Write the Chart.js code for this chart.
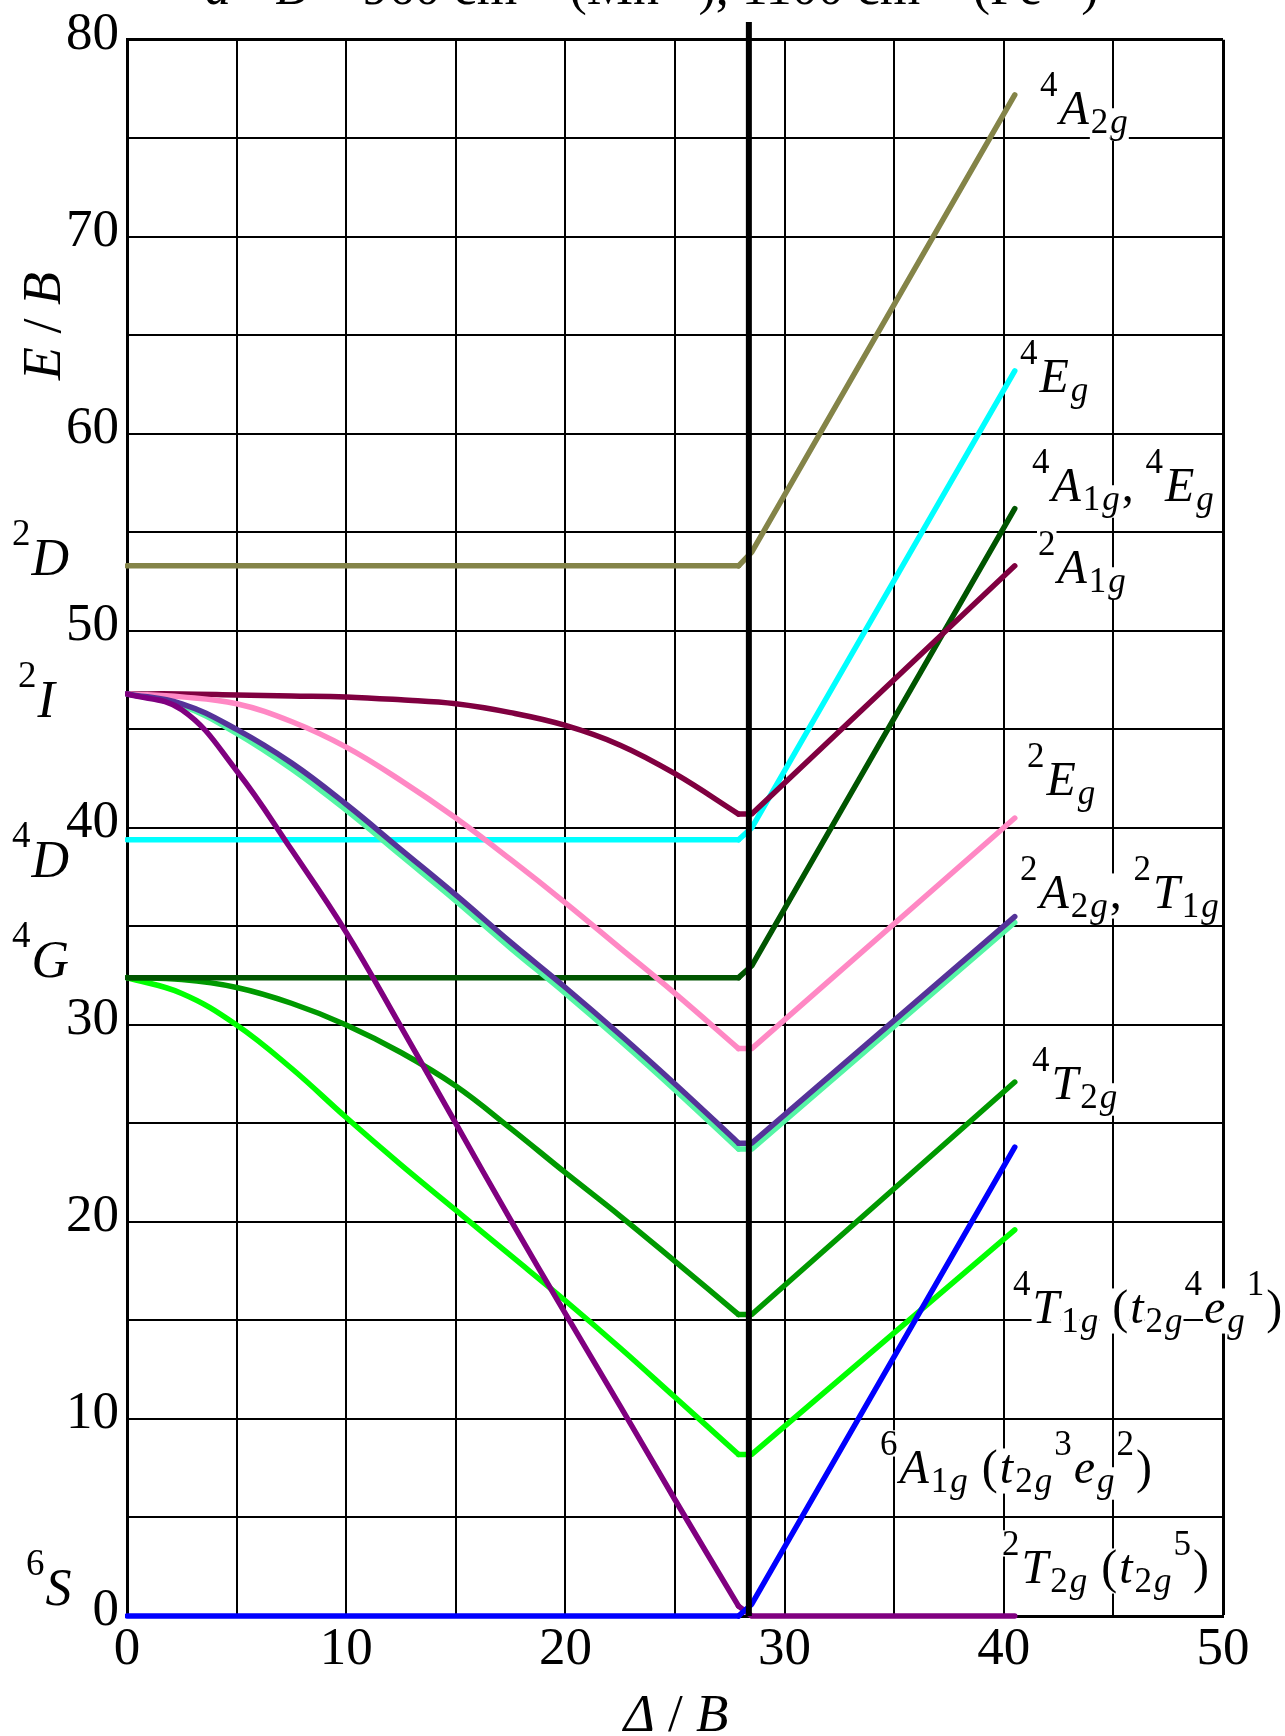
<!DOCTYPE html>
<html>
<head>
<meta charset="utf-8">
<script src="https://cdn.jsdelivr.net/npm/chart.js@4.4.0/dist/chart.umd.min.js"></script>
<style>
  html, body { margin: 0; padding: 0; background: #fff; }
  #chart { display: block; }
</style>
</head>
<body>
<canvas id="chart" width="1285" height="1736"></canvas>
<script>
// Tanabe-Sugano diagram, d5 — energies
const deltaLeft = [0, 2.5, 5, 7.5, 10, 12.5, 15, 17.5, 20, 22.5, 25, 27.9];
const deltaRight = [27.9, 28.5, 40.5];
const crossover = 28.37;
const crossoverTop = 80.9;

const xTicks = [0, 10, 20, 30, 40, 50];
const yTicks = [0, 10, 20, 30, 40, 50, 60, 70, 80];

// left part (high spin ground state), right part (low spin ground state)
const a6A1gLeft = [0, 0, 0, 0, 0, 0, 0, 0, 0, 0, 0, 0];
const a6A1gRight = [0, 0.6, 23.8];
const t2T2gLeft = [46.8, 46.0, 42.9, 38.9, 34.7, 29.9, 25.0, 20.1, 15.35, 10.65, 5.9, 0.5];
const t2T2gRight = [0.5, 0, 0];
const t4T1gLeft = [32.4, 31.6, 30.0, 27.8, 25.3, 22.9, 20.6, 18.3, 16.0, 13.6, 11.1, 8.2];
const t4T1gRight = [8.2, 8.2, 19.6];
const t4T2gLeft = [32.4, 32.3, 31.9, 31.1, 30.0, 28.6, 26.9, 24.75, 22.5, 20.3, 18.0, 15.3];
const t4T2gRight = [15.3, 15.3, 27.1];
const a4A1gLeft = [32.4, 32.4, 32.4, 32.4, 32.4, 32.4, 32.4, 32.4, 32.4, 32.4, 32.4, 32.4];
const a4A1gRight = [32.4, 33.0, 56.2];
const e4EgLeft = [39.4, 39.4, 39.4, 39.4, 39.4, 39.4, 39.4, 39.4, 39.4, 39.4, 39.4, 39.4];
const e4EgRight = [39.4, 40.0, 63.2];
const a4A2gLeft = [53.3, 53.3, 53.3, 53.3, 53.3, 53.3, 53.3, 53.3, 53.3, 53.3, 53.3, 53.3];
const a4A2gRight = [53.3, 54.0, 77.2];
const a2A1gLeft = [46.8, 46.8, 46.75, 46.7, 46.65, 46.5, 46.3, 45.85, 45.2, 44.2, 42.75, 40.7];
const a2A1gRight = [40.7, 40.7, 53.3];
const e2EgLeft = [46.8, 46.65, 46.3, 45.4, 44.1, 42.4, 40.5, 38.4, 36.2, 33.9, 31.6, 28.8];
const e2EgRight = [28.8, 28.8, 40.5];
const t2T1gLeft = [46.8, 46.3, 45.0, 43.3, 41.2, 38.9, 36.6, 34.2, 31.9, 29.5, 27.0, 24.0];
const t2T1gRight = [24.0, 24.0, 35.5];
const a2A2gLeft = [46.8, 46.2, 44.8, 43.0, 40.9, 38.6, 36.3, 33.9, 31.6, 29.2, 26.7, 23.7];
const a2A2gRight = [23.7, 23.7, 35.2];

const SERIF = '"Liberation Serif", "Times New Roman", serif';
const LINE_W = 5.5;

const datasets = [];

function addState(color, left, right) {
  const common = {
    borderColor: color,
    borderWidth: LINE_W,
    pointRadius: 0,
    fill: false,
    borderCapStyle: 'round',
    borderJoinStyle: 'round',
    clip: { left: 2, top: 6, right: 6, bottom: 6 }
  };
  datasets.push({ ...common, tension: 0.4, data: deltaLeft.map((x, i) => ({ x, y: left[i] })) });
  datasets.push({ ...common, tension: 0, data: deltaRight.map((x, i) => ({ x, y: right[i] })) });
}

// earlier = drawn on top
addState('#0000ff', a6A1gLeft, a6A1gRight);
addState('#800080', t2T2gLeft, t2T2gRight);
addState('#553399', t2T1gLeft, t2T1gRight);
addState('#55f5a5', a2A2gLeft, a2A2gRight);
addState('#ff88c4', e2EgLeft, e2EgRight);
addState('#800040', a2A1gLeft, a2A1gRight);
addState('#005500', a4A1gLeft, a4A1gRight);
addState('#009900', t4T2gLeft, t4T2gRight);
addState('#00ff00', t4T1gLeft, t4T1gRight);
addState('#00ffff', e4EgLeft, e4EgRight);
addState('#848448', a4A2gLeft, a4A2gRight);

datasets.push({
  data: [{ x: crossover, y: 0 }, { x: crossover, y: crossoverTop }],
  borderColor: '#000',
  borderWidth: 6,
  pointRadius: 0,
  tension: 0,
  clip: false,
  order: -1
});

// rich text: pieces of [text, kind]
function fontFor(kind, base) {
  const small = Math.round(base * 0.72);
  if (kind === 'i') return `italic ${base}px ${SERIF}`;
  if (kind === 'r') return `${base}px ${SERIF}`;
  if (kind === 'subi') return `italic ${small}px ${SERIF}`;
  return `${small}px ${SERIF}`;
}

function shiftFor(kind, base) {
  if (kind === 'sup') return -0.58 * base;
  if (kind === 'sub' || kind === 'subi') return 0.19 * base;
  return 0;
}

function layoutRich(ctx, pieces, base, gap) {
  let x = 0;
  return pieces.map(([text, kind]) => {
    ctx.font = fontFor(kind, base);
    const w = ctx.measureText(text).width;
    const item = { text, kind, x, w };
    x += w + gap;
    return item;
  });
}

function richWidth(ctx, pieces, base, gap) {
  const items = layoutRich(ctx, pieces, base, gap);
  const last = items[items.length - 1];
  return last.x + last.w;
}

function drawRich(ctx, x0, y0, pieces, base, boxed, gap = 0) {
  const items = layoutRich(ctx, pieces, base, gap);
  if (boxed) {
    ctx.fillStyle = '#fff';
    items.forEach((it) => {
      const size = it.kind === 'i' || it.kind === 'r' ? base : base * 0.72;
      const by = y0 + shiftFor(it.kind, base);
      const asc = size * 0.72;
      const desc = it.kind === 'sup' ? size * 0.04 : size * 0.22;
      ctx.fillRect(x0 + it.x - 1, by - asc, it.w + 2, asc + desc);
    });
  }
  ctx.fillStyle = '#000';
  ctx.textBaseline = 'alphabetic';
  ctx.textAlign = 'left';
  items.forEach((it) => {
    ctx.font = fontFor(it.kind, base);
    ctx.fillText(it.text, x0 + it.x, y0 + shiftFor(it.kind, base));
  });
}

const COMMA = ',\u2009';

const stateLabels = [
  { x: 1040, y: 124, pieces: [['4', 'sup'], ['A', 'i'], ['2', 'sub'], ['g', 'subi']] },
  { x: 1020, y: 392, pieces: [['4', 'sup'], ['E', 'i'], ['g', 'subi']] },
  { x: 1032, y: 501, pieces: [['4', 'sup'], ['A', 'i'], ['1', 'sub'], ['g', 'subi'], [COMMA, 'r'], ['4', 'sup'], ['E', 'i'], ['g', 'subi']] },
  { x: 1038, y: 583, pieces: [['2', 'sup'], ['A', 'i'], ['1', 'sub'], ['g', 'subi']] },
  { x: 1027, y: 795, pieces: [['2', 'sup'], ['E', 'i'], ['g', 'subi']] },
  { x: 1020, y: 908, pieces: [['2', 'sup'], ['A', 'i'], ['2', 'sub'], ['g', 'subi'], [COMMA, 'r'], ['2', 'sup'], ['T', 'i'], ['1', 'sub'], ['g', 'subi']] },
  { x: 1032, y: 1099, pieces: [['4', 'sup'], ['T', 'i'], ['2', 'sub'], ['g', 'subi']] },
  { x: 1013, y: 1323, pieces: [['4', 'sup'], ['T', 'i'], ['1', 'sub'], ['g', 'subi'], [' (', 'r'], ['t', 'i'], ['2', 'sub'], ['g', 'subi'], ['4', 'sup'], ['e', 'i'], ['g', 'subi'], ['1', 'sup'], [')', 'r']] },
  { x: 880, y: 1483, pieces: [['6', 'sup'], ['A', 'i'], ['1', 'sub'], ['g', 'subi'], [' (', 'r'], ['t', 'i'], ['2', 'sub'], ['g', 'subi'], ['3', 'sup'], ['e', 'i'], ['g', 'subi'], ['2', 'sup'], [')', 'r']] },
  { x: 1002, y: 1583, pieces: [['2', 'sup'], ['T', 'i'], ['2', 'sub'], ['g', 'subi'], [' (', 'r'], ['t', 'i'], ['2', 'sub'], ['g', 'subi'], ['5', 'sup'], [')', 'r']] }
];

const termLabels = [
  { x: 12, y: 575, pieces: [['2', 'sup'], ['D', 'i']] },
  { x: 18, y: 717, pieces: [['2', 'sup'], ['I', 'i']] },
  { x: 12, y: 877, pieces: [['4', 'sup'], ['D', 'i']] },
  { x: 12, y: 977, pieces: [['4', 'sup'], ['G', 'i']] },
  { x: 26, y: 1605, pieces: [['6', 'sup'], ['S', 'i']] }
];

const titlePieces = [['d', 'i'], ['5', 'sup'], ['  ', 'r'], ['B', 'i'], [' = 960 cm', 'r'], ['\u22121', 'sup'], [' (Mn', 'r'], ['2+', 'sup'], ['), 1100 cm', 'r'], ['\u22121', 'sup'], [' (Fe', 'r'], ['3+', 'sup'], [')', 'r']];
const xTitlePieces = [['\u0394', 'i'], [' / ', 'r'], ['B', 'i']];
const yTitlePieces = [['E', 'i'], [' / ', 'r'], ['B', 'i']];

const annotations = {
  id: 'annotations',
  afterDraw(chart) {
    const ctx = chart.ctx;
    ctx.save();
    stateLabels.forEach((l) => drawRich(ctx, l.x, l.y, l.pieces, 48, true, 2));
    termLabels.forEach((l) => drawRich(ctx, l.x, l.y, l.pieces, 52, false, 1));

    drawRich(ctx, 205, 4, titlePieces, 52, false);

    const xw = richWidth(ctx, xTitlePieces, 53, 0);
    drawRich(ctx, 676 - xw / 2, 1731, xTitlePieces, 53, false);

    const yw = richWidth(ctx, yTitlePieces, 54, 0);
    ctx.translate(60, 326);
    ctx.rotate(-Math.PI / 2);
    drawRich(ctx, -yw / 2, 0, yTitlePieces, 54, false);
    ctx.restore();
  }
};

new Chart(document.getElementById('chart'), {
  type: 'line',
  data: { datasets },
  plugins: [annotations],
  options: {
    responsive: false,
    animation: false,
    events: [],
    layout: { padding: { left: 0, right: 62, top: 35, bottom: 0 } },
    plugins: { legend: { display: false }, tooltip: { enabled: false } },
    scales: {
      x: {
        type: 'linear',
        min: 0,
        max: 50,
        afterFit(scale) { scale.height = 120; },
        grid: { color: '#000', lineWidth: (c) => (c.tick && c.tick.value === 50 ? 3 : 2), drawTicks: false },
        border: { color: '#000', width: 3 },
        ticks: {
          stepSize: 5,
          autoSkip: false,
          maxRotation: 0,
          padding: 2,
          color: '#000',
          font: { family: SERIF, size: 53 },
          callback: (v) => (xTicks.includes(v) ? String(v) : '')
        }
      },
      y: {
        min: 0,
        max: 80,
        afterFit(scale) { scale.width = 127; },
        grid: { color: '#000', lineWidth: (c) => (c.tick && c.tick.value === 80 ? 3 : 2), drawTicks: false },
        border: { color: '#000', width: 3 },
        ticks: {
          stepSize: 5,
          autoSkip: false,
          padding: 8,
          labelOffset: -5,
          color: '#000',
          font: { family: SERIF, size: 53 },
          callback: (v) => (yTicks.includes(v) ? String(v) : '')
        }
      }
    }
  }
});
</script>
</body>
</html>
